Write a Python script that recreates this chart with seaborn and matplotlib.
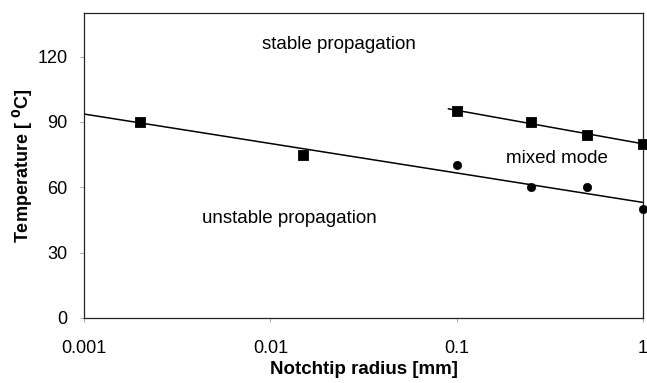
import numpy as np
import pandas as pd
import matplotlib
matplotlib.use("Agg")
import matplotlib.pyplot as plt
import seaborn as sns

sns.set_style("white")
plt.rcParams['font.family'] = ['Liberation Sans', 'DejaVu Sans']
plt.rcParams['text.color'] = 'black'
plt.rcParams['axes.labelcolor'] = 'black'
plt.rcParams['xtick.labelcolor'] = 'black'
plt.rcParams['ytick.labelcolor'] = 'black'

# transition unstable -> (stable / mixed), squares at small radii
low_sq_x = [0.002, 0.015]
low_sq_y = [90, 75]
# stable -> mixed boundary (squares)
up_sq_x = [0.1, 0.25, 0.5, 1.0]
up_sq_y = [95, 90, 84, 80]
# mixed -> unstable boundary (circles)
circ_x = [0.1, 0.25, 0.5, 1.0]
circ_y = [70, 60, 60, 50]

xticks = [0.001, 0.01, 0.1, 1]
xticklabels = ["0.001", "0.01", "0.1", "1"]
yticks = [0, 30, 60, 90, 120]

fig = plt.figure(figsize=(6.47, 3.83), dpi=100)
ax = fig.add_axes([0.130, 0.170, 0.864, 0.796])
ax.set_xscale("log")
ax.set_xlim(0.001, 1)
ax.set_ylim(0, 140)

# lower boundary fit: squares at small radii + circles
lower = pd.DataFrame({"x": low_sq_x + circ_x, "y": low_sq_y + circ_y})
upper = pd.DataFrame({"x": up_sq_x, "y": up_sq_y})

def log_fit_line(df, x0, x1):
    lx = np.log10(df["x"].to_numpy())
    b, a = np.polyfit(lx, df["y"].to_numpy(), 1)
    xs = np.array([x0, x1])
    return pd.DataFrame({"x": xs, "y": a + b * np.log10(xs)})

fl = log_fit_line(lower, 0.001, 1.0)
fu = log_fit_line(upper, 0.09, 1.0)
sns.lineplot(data=fl, x="x", y="y", color="black", lw=1.1, ax=ax)
sns.lineplot(data=fu, x="x", y="y", color="black", lw=1.1, ax=ax)

sns.scatterplot(x=low_sq_x + up_sq_x, y=low_sq_y + up_sq_y, marker="s",
                s=55, color="black", edgecolor="black", ax=ax, zorder=5, clip_on=False)
sns.scatterplot(x=circ_x, y=circ_y, marker="o", s=36, color="black",
                edgecolor="black", ax=ax, zorder=5, clip_on=False)

ax.text(0.009, 125.5, "stable propagation", fontsize=13.5, va="center", ha="left")
ax.text(0.345, 73, "mixed mode", fontsize=13.5, va="center", ha="center")
ax.text(0.0043, 45.5, "unstable propagation", fontsize=13.5, va="center", ha="left")

ax.set_xticks(xticks)
ax.set_xticklabels(xticklabels)
ax.xaxis.set_minor_locator(matplotlib.ticker.NullLocator())
ax.set_yticks(yticks)
ax.tick_params(axis="both", labelsize=13, length=3, width=0.6, color="#999999",
               direction="out", bottom=True, left=True, pad=9)
ax.tick_params(axis="x", pad=13)

for side in ["top", "right", "left", "bottom"]:
    ax.spines[side].set_color("#222222")
    ax.spines[side].set_linewidth(0.9)

ax.set_xlabel("Notchtip radius [mm]", fontsize=13.5, fontweight="bold", labelpad=3)
ax.set_ylabel(r"Temperature [ $^\mathbf{0}$C]", fontsize=13, fontweight="bold", labelpad=2)

fig.savefig("out.png", dpi=100)
